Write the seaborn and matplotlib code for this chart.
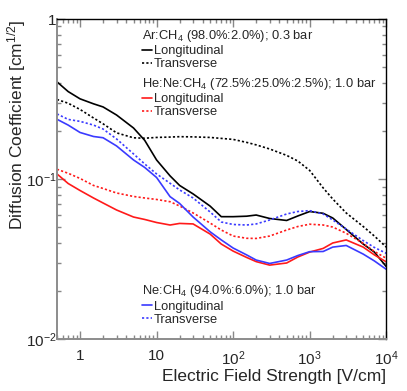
import numpy as np
import pandas as pd
import matplotlib
matplotlib.use("Agg")
import matplotlib.pyplot as plt
import seaborn as sns
from matplotlib.lines import Line2D
from matplotlib.ticker import FixedLocator, FixedFormatter, LogLocator, NullFormatter

# Data (electric field in V/cm, diffusion in cm^1/2)
field = [0.5, 0.7, 1, 1.5, 2, 3, 5, 7, 10, 15, 20, 30, 50, 70, 100, 150, 200,
         300, 500, 700, 1000, 1500, 2000, 3000, 5000, 7000, 10000]

ar_long = [0.406, 0.353, 0.318, 0.296, 0.283, 0.252, 0.209, 0.175, 0.132, 0.105,
           0.0915, 0.081, 0.068, 0.0584, 0.0584, 0.0588, 0.0598, 0.0569, 0.0553,
           0.059, 0.0629, 0.0613, 0.0573, 0.0486, 0.0394, 0.0351, 0.0285]
ar_trans = [0.315, 0.2985, 0.273, 0.2415, 0.222, 0.195, 0.1815, 0.1805, 0.1825,
            0.1835, 0.1845, 0.184, 0.1825, 0.180, 0.1774, 0.170, 0.164, 0.1546,
            0.141, 0.130, 0.1135, 0.0883, 0.0753, 0.0616, 0.0507, 0.0442, 0.0377]

hene_long = [0.108, 0.0941, 0.0851, 0.0764, 0.0711, 0.0643, 0.0581, 0.0561,
             0.0537, 0.0518, 0.0530, 0.0526, 0.0455, 0.0394, 0.0356, 0.0325,
             0.0306, 0.0291, 0.030, 0.0327, 0.0351, 0.0370, 0.040, 0.0418,
             0.0377, 0.0337, 0.0305]
hene_trans = [0.1155, 0.109, 0.1012, 0.0915, 0.0876, 0.0821, 0.0781, 0.0764,
              0.0748, 0.0724, 0.0681, 0.0616, 0.0533, 0.0482, 0.0442, 0.0428,
              0.0427, 0.0442, 0.0482, 0.0507, 0.0524, 0.0518, 0.0503, 0.046,
              0.0398, 0.0354, 0.0321]

ne_long = [0.237, 0.218, 0.196, 0.185, 0.1817, 0.1615, 0.132, 0.1185, 0.1026,
           0.0779, 0.0706, 0.0581, 0.047, 0.0418, 0.0372, 0.0337, 0.0313, 0.0298,
           0.0313, 0.0334, 0.0353, 0.0354, 0.0377, 0.0386, 0.0341, 0.0309, 0.0274]
ne_trans = [0.256, 0.2365, 0.23, 0.218, 0.206, 0.1786, 0.144, 0.1246, 0.108,
            0.0944, 0.0858, 0.0764, 0.0625, 0.0541, 0.0522, 0.0518, 0.0526,
            0.0557, 0.0607, 0.0629, 0.0637, 0.0607, 0.0557, 0.0489, 0.0414,
            0.0375, 0.0345]

mixtures = ["Ar:CH$_4$ (98.0%:2.0%); 0.3 bar",
            "He:Ne:CH$_4$ (72.5%:25.0%:2.5%); 1.0 bar",
            "Ne:CH$_4$ (94.0%:6.0%); 1.0 bar"]
colors = ["black", "#ff1a1a", "#3a3aff"]

sns.set_style("ticks")
plt.rcParams['font.family'] = ['Liberation Sans', 'DejaVu Sans']
plt.rcParams['mathtext.fontset'] = 'custom'
plt.rcParams['mathtext.rm'] = 'Liberation Sans'
plt.rcParams['mathtext.it'] = 'Liberation Sans:italic'

fig = plt.figure(figsize=(4.07, 3.91), dpi=100)
ax = fig.add_axes([0.140, 0.132, 0.809, 0.819])

dotted = (0, (1.3, 1.3))
series = [(ar_long, colors[0], '-'), (ar_trans, colors[0], dotted),
          (hene_long, colors[1], '-'), (hene_trans, colors[1], dotted),
          (ne_long, colors[2], '-'), (ne_trans, colors[2], dotted)]
for vals, c, ls in series:
    sns.lineplot(x=field, y=vals, ax=ax, color=c, linestyle=ls, linewidth=1.2)

ax.set_xscale('log')
ax.set_yscale('log')
ax.set_xlim(0.5, 1e4)
ax.set_ylim(1e-2, 1)

ax.xaxis.set_major_locator(FixedLocator([1, 10, 100, 1000, 10000]))
ax.xaxis.set_major_formatter(FixedFormatter(['1', '10', '$10^2$', '$10^3$', '$10^4$']))
ax.yaxis.set_major_locator(FixedLocator([0.01, 0.1, 1]))
ax.yaxis.set_major_formatter(FixedFormatter(['$10^{-2}$', '$10^{-1}$', '1']))
for a in (ax.xaxis, ax.yaxis):
    a.set_minor_locator(LogLocator(base=10, subs=np.arange(2, 10), numticks=20))
    a.set_minor_formatter(NullFormatter())

ax.tick_params(which='both', direction='in', top=True, right=True, color='#888888')
ax.tick_params(which='major', length=6, width=1, labelsize=11)
ax.tick_params(which='minor', length=3, width=1)
ax.tick_params(axis='x', which='major', pad=7)
ax.tick_params(axis='y', which='major', pad=0.5)

for s in ['left', 'bottom']:
    ax.spines[s].set_color('#8c8c8c')
    ax.spines[s].set_linewidth(1.4)
for s in ['top', 'right']:
    ax.spines[s].set_color('black')
    ax.spines[s].set_linewidth(1.0)

ax.set_xlabel('Electric Field Strength [V/cm]', fontsize=12.5, loc='right', labelpad=1)
ax.set_ylabel('Diffusion Coefficient [cm$^{1/2}$]', fontsize=12.5, loc='top')
ax.yaxis.set_label_coords(-0.088, 1.0)

# Three stacked legends, one per gas mixture
anchors = [(0.258, 0.973), (0.258, 0.823), (0.258, 0.175)]
legends = []
for title, c, anchor in zip(mixtures, colors, anchors):
    handles = [Line2D([], [], color=c, lw=1.2, ls='-'),
               Line2D([], [], color=c, lw=1.2, ls=dotted)]
    leg = ax.legend(handles, ['Longitudinal', 'Transverse'], title=title,
                    loc='upper left', bbox_to_anchor=anchor, frameon=False,
                    alignment='left', fontsize=9.3, title_fontsize=9.3,
                    handlelength=0.75, handletextpad=0.15, labelspacing=0.08,
                    borderpad=0, borderaxespad=0)
    leg._legend_box.sep = 1
    legends.append(leg)
for leg in legends[:-1]:
    ax.add_artist(leg)

fig.savefig('out.png', dpi=100)
